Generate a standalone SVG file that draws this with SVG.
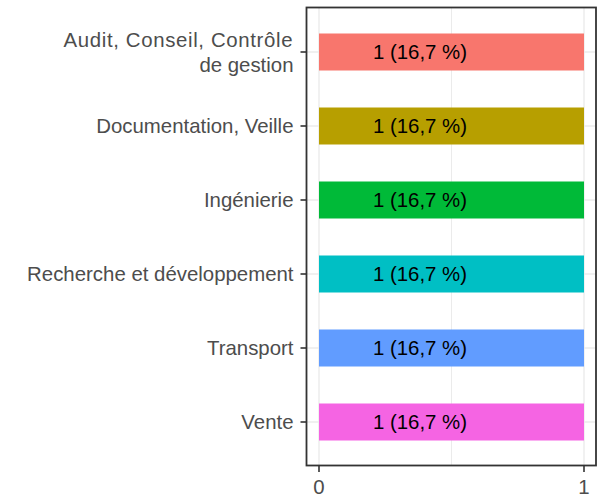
<svg xmlns="http://www.w3.org/2000/svg" width="603" height="497" viewBox="0 0 603 497">
<style>
.ax{font-family:"Liberation Sans",Arial,sans-serif;font-size:20.4px;fill:#4D4D4D}
.lb{font-family:"Liberation Sans",Arial,sans-serif;font-size:20.4px;fill:#000;text-anchor:middle}
.grid{stroke:#EBEBEB;stroke-width:1.4}
.minor{stroke:#EBEBEB;stroke-width:1}
.tick{stroke:#333;stroke-width:1.6}
</style>
<rect width="603" height="497" fill="#fff"/>
<g id="gridlines">
<line class="minor" x1="451.5" y1="7.5" x2="451.5" y2="465.5"/>
<line class="grid" x1="319" y1="7.5" x2="319" y2="465.5"/>
<line class="grid" x1="584" y1="7.5" x2="584" y2="465.5"/>
<line class="grid" x1="306.5" y1="52" x2="596" y2="52"/>
<line class="grid" x1="306.5" y1="126" x2="596" y2="126"/>
<line class="grid" x1="306.5" y1="200" x2="596" y2="200"/>
<line class="grid" x1="306.5" y1="274" x2="596" y2="274"/>
<line class="grid" x1="306.5" y1="348" x2="596" y2="348"/>
<line class="grid" x1="306.5" y1="422" x2="596" y2="422"/>
</g>
<g id="bar-audit"><rect x="319" y="33.5" width="265" height="37" fill="#F8766D"/><text class="lb" x="420" y="59.3">1 (16,7 %)</text></g>
<g id="bar-documentation"><rect x="319" y="107.5" width="265" height="37" fill="#B79F00"/><text class="lb" x="420" y="133.3">1 (16,7 %)</text></g>
<g id="bar-ingenierie"><rect x="319" y="181.5" width="265" height="37" fill="#00BA38"/><text class="lb" x="420" y="207.3">1 (16,7 %)</text></g>
<g id="bar-recherche"><rect x="319" y="255.5" width="265" height="37" fill="#00BFC4"/><text class="lb" x="420" y="281.3">1 (16,7 %)</text></g>
<g id="bar-transport"><rect x="319" y="329.5" width="265" height="37" fill="#619CFF"/><text class="lb" x="420" y="355.3">1 (16,7 %)</text></g>
<g id="bar-vente"><rect x="319" y="403.5" width="265" height="37" fill="#F564E3"/><text class="lb" x="420" y="429.3">1 (16,7 %)</text></g>
<rect id="panel" x="306.5" y="7.5" width="289.5" height="458" fill="none" stroke="#333" stroke-width="1.8"/>
<g id="y-axis">
<line class="tick" x1="300.5" y1="52" x2="306.5" y2="52"/>
<line class="tick" x1="300.5" y1="126" x2="306.5" y2="126"/>
<line class="tick" x1="300.5" y1="200" x2="306.5" y2="200"/>
<line class="tick" x1="300.5" y1="274" x2="306.5" y2="274"/>
<line class="tick" x1="300.5" y1="348" x2="306.5" y2="348"/>
<line class="tick" x1="300.5" y1="422" x2="306.5" y2="422"/>
<text class="ax" x="63.5" y="46.7" textLength="229" lengthAdjust="spacing">Audit, Conseil, Contrôle</text>
<text class="ax" text-anchor="end" x="293.5" y="71.7">de gestion</text>
<text class="ax" text-anchor="end" x="293.5" y="133.3">Documentation, Veille</text>
<text class="ax" text-anchor="end" x="293.5" y="207.3">Ingénierie</text>
<text class="ax" text-anchor="end" x="293.5" y="281.3">Recherche et développement</text>
<text class="ax" text-anchor="end" x="293.5" y="355.3">Transport</text>
<text class="ax" text-anchor="end" x="293.5" y="429.3">Vente</text>
</g>
<g id="x-axis">
<line class="tick" x1="319" y1="465.5" x2="319" y2="472"/>
<line class="tick" x1="584" y1="465.5" x2="584" y2="472"/>
<text class="ax" text-anchor="middle" x="319" y="494">0</text>
<text class="ax" text-anchor="middle" x="584" y="494">1</text>
</g>
</svg>
